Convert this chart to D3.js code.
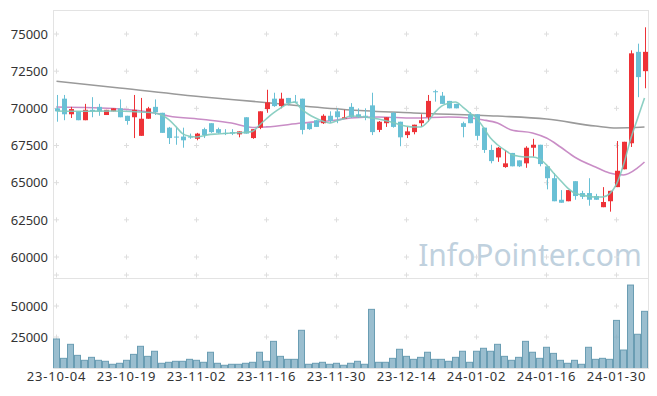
<!DOCTYPE html>
<html>
<head>
<meta charset="utf-8">
<script src="https://cdn.jsdelivr.net/npm/d3@7"></script>
<style>
  body { margin: 0; background: #fff; }
  svg { display: block; font-family: "Noto Sans", sans-serif; }
</style>
</head>
<body>
<div class="chart"></div>
<script>
// dates (trading days)
const dates = ["23-10-04","23-10-05","23-10-06","23-10-10","23-10-11","23-10-12","23-10-13","23-10-16","23-10-17","23-10-18",
  "23-10-19","23-10-20","23-10-23","23-10-24","23-10-25","23-10-26","23-10-27","23-10-30","23-10-31","23-11-01",
  "23-11-02","23-11-03","23-11-06","23-11-07","23-11-08","23-11-09","23-11-10","23-11-13","23-11-14","23-11-15",
  "23-11-16","23-11-17","23-11-20","23-11-21","23-11-22","23-11-23","23-11-24","23-11-27","23-11-28","23-11-29",
  "23-11-30","23-12-01","23-12-04","23-12-05","23-12-06","23-12-07","23-12-08","23-12-11","23-12-12","23-12-13",
  "23-12-14","23-12-15","23-12-18","23-12-19","23-12-20","23-12-21","23-12-22","23-12-26","23-12-27","23-12-28",
  "24-01-02","24-01-03","24-01-04","24-01-05","24-01-08","24-01-09","24-01-10","24-01-11","24-01-12","24-01-15",
  "24-01-16","24-01-17","24-01-18","24-01-19","24-01-22","24-01-23","24-01-24","24-01-25","24-01-26","24-01-29",
  "24-01-30","24-01-31","24-02-01","24-02-02","24-02-05"];

const open = [70000,70650,69600,69800,69200,69900,70100,69550,69800,70000,
  69500,69400,68150,69300,70100,69700,68700,68100,68100,68100,
  67950,68600,69000,68600,68350,68400,68250,69400,68000,68700,
  69950,70650,70150,70700,70450,70650,69000,69200,69000,69500,
  69800,69300,70100,69600,69500,70200,68550,69000,69700,69100,
  68200,68400,69000,69400,71150,70850,70500,70300,69000,69600,
  69600,68700,67200,66700,66050,67000,66500,66300,67350,67550,
  66100,65300,63850,63750,65100,64300,64300,64100,63350,63750,
  64700,65900,67650,73800,72500];
const high = [70900,70900,70100,69800,70300,70750,70300,69900,70000,70600,
  69500,70900,70700,70100,70600,69700,68750,68700,68700,68300,
  68350,68700,69000,68700,68600,68600,68450,69400,68600,69800,
  71250,71050,71050,70700,70900,70650,69000,69200,69600,69800,
  70000,69900,70350,70000,70000,71050,69150,69400,69750,69100,
  68750,68900,69600,70900,71250,71100,70500,70300,69100,69750,
  69600,68700,67550,67400,67200,67000,66500,67450,67950,67550,
  66100,65650,64500,64500,65100,64450,65300,64250,64700,64450,
  67800,67750,73900,74350,75450];
const low = [69100,69200,69350,69200,69200,69400,69500,69550,69800,69400,
  68900,68000,68150,69300,69550,68350,67600,67550,67350,67950,
  67850,68000,68350,68300,68200,68200,68050,68300,67950,68600,
  69700,70100,70000,70200,70350,68250,68550,68750,68950,69000,
  69000,69300,69350,69350,69200,68200,68400,68750,68700,67450,
  68000,68250,68750,69100,70450,70300,70000,70000,68050,69000,
  67850,67000,66300,66400,66000,66100,66050,66000,66750,66100,
  64550,63750,63650,63750,63850,63900,63450,63850,63350,63050,
  64700,65900,67400,70750,71350];
const close = [69800,69600,69950,69200,69900,69800,69800,69900,70000,69400,
  69150,69900,69300,70000,69750,68350,68000,68050,67850,68050,
  68300,68200,68400,68350,68300,68300,68450,68300,68600,69800,
  70400,70150,70650,70350,70400,68550,68600,68750,69500,69150,
  69400,69400,69400,69400,69450,68400,69100,69400,68750,68050,
  68450,68900,69200,70500,71100,70300,70000,70000,68750,69000,
  68150,67200,66450,67350,66300,66100,66100,67350,67550,66250,
  65300,63750,63650,64500,64100,64050,63850,63850,63700,64450,
  65800,67750,73700,72100,73800];
const volume = [23400,7800,19100,10200,6200,8600,6200,5400,3000,3800,
  6200,11000,17500,9400,13500,3800,4600,5400,5400,7000,
  6200,4600,12700,3800,2200,3000,3000,3800,4600,12700,
  5400,21500,9400,7000,7000,30400,3000,3800,4600,3000,
  3800,2200,3800,5400,3000,47300,4600,4600,7800,15100,
  9400,7000,8600,12700,7000,7000,5400,8600,13500,4600,
  13500,15900,13500,19100,9400,6200,8600,21500,12700,7800,
  16700,11800,6200,3800,6200,3000,16700,7000,7800,7000,
  38400,14500,66900,27200,45700];

// moving averages (index of day, value)
const ma5Day = [0,4,8,12,14,15,16,17,18,19,20,21,22,23,25,27,28,29,30,31,32,33,34,35,36,37,38,39,40,41,42,44,46,48,50,51,52,53,54,55,56,57,58,59,60,61,62,63,64,65,66,67,68,69,70,71,72,73,74,75,76,77,78,79,80,81,82,83,84];
const ma5 = [69820,69800,69820,69750,69690,69550,69250,68800,68300,68120,68070,68150,68250,68270,68340,68380,68450,68880,69300,69700,70020,70300,70430,69950,69600,69350,69150,69010,69150,69300,69480,69420,69280,69050,68800,68740,68740,69080,69700,70150,70350,70430,70100,69700,69350,68700,68000,67550,67200,66900,66780,66730,66730,66600,66200,65650,65150,64650,64300,64180,64080,64040,64040,64250,64900,66200,67900,69300,70700];
const ma20Day = [0,9,14,16,21,25,28,30,35,40,42,46,51,56,59,61,63,65,68,70,72,74,77,79,81,83,84];
const ma20 = [70090,69960,69690,69490,69250,69010,68710,68750,69010,69220,69350,69420,69350,69420,69350,69220,69010,68540,68340,68000,67400,66730,66050,65650,65520,65990,66390];
const ma120Day = [0,9,21,29,35,42,51,63,70,77,80,84];
const ma120 = [71820,71370,70760,70430,70160,69890,69690,69480,69280,68810,68680,68740];

const priceTicks = [60000,62500,65000,67500,70000,72500,75000];
const volumeTicks = [25000,50000];
const tickLabels = ["23-10-04","23-10-19","23-11-02","23-11-16","23-11-30","23-12-14","24-01-02","24-01-16","24-01-30"];

const width = 657, height = 396;
const plotLeft = 53, plotRight = 648, plotTop = 10, split = 278, plotBottom = 368;

const svg = d3.select('.chart').append('svg')
  .attr('width', width)
  .attr('height', height);

const x = d3.scaleBand().domain(dates).range([plotLeft, plotRight]).padding(0);
const y = d3.scaleLinear().domain([60000, 75000]).range([257, 34]);
const yVol = d3.scaleLinear().domain([0, 75000]).range([plotBottom, 275]);

// frame
svg.append('rect')
  .attr('x', plotLeft + 0.5).attr('y', plotTop + 0.5)
  .attr('width', plotRight - plotLeft).attr('height', plotBottom - plotTop)
  .attr('fill', 'none').attr('stroke', '#e3e3e3');
svg.append('line')
  .attr('x1', plotLeft).attr('x2', plotRight)
  .attr('y1', split + 0.5).attr('y2', split + 0.5)
  .attr('stroke', '#e3e3e3');

// watermark
svg.append('text')
  .attr('x', 530).attr('y', 266)
  .attr('text-anchor', 'middle')
  .attr('font-size', 30)
  .attr('fill', '#c0d1de')
  .text('InfoPointer.com');

// small + marks at grid crossings
const cx = tickLabels.map(d => x(d) + x.bandwidth() / 2);
const crossY = priceTicks.map(d => y(d)).concat([25000, 50000, 75000].map(d => yVol(d)));
const marks = svg.append('g').attr('stroke', '#dedede');
cx.forEach(px => crossY.forEach(py => {
  marks.append('line').attr('x1', px - 2.5).attr('x2', px + 2.5).attr('y1', py).attr('y2', py);
  marks.append('line').attr('x1', px).attr('x2', px).attr('y1', py - 2.5).attr('y2', py + 2.5);
}));

// volume
svg.append('clipPath').attr('id', 'volClip')
  .append('rect').attr('x', plotLeft).attr('y', split).attr('width', plotRight - plotLeft).attr('height', plotBottom - split);
svg.append('g').attr('clip-path', 'url(#volClip)')
  .selectAll('rect')
  .data(volume)
  .join('rect')
  .attr('x', (d, i) => x(dates[i]) + 0.5)
  .attr('y', d => yVol(d))
  .attr('width', x.bandwidth() - 1)
  .attr('height', d => plotBottom - yVol(d) + 1)
  .attr('fill', 'rgba(126,172,194,0.78)')
  .attr('stroke', '#6a9db3')
  .attr('stroke-width', 1);

// moving average lines
function maLine(days, vals, color, w) {
  const pts = days.map((d, i) => [x(dates[d]) + x.bandwidth() / 2, y(vals[i])]);
  svg.append('path')
    .attr('d', d3.line().curve(d3.curveMonotoneX)(pts))
    .attr('fill', 'none')
    .attr('stroke', color)
    .attr('stroke-width', w);
}
maLine(ma120Day, ma120, '#9a9a9a', 1.6);
maLine(ma20Day, ma20, '#c98dc6', 1.6);

// candles
const candles = svg.append('g');
const bodyW = 5;
dates.forEach((d, i) => {
  const up = close[i] >= open[i];
  const col = up ? '#ee3237' : '#69c0d5';
  const mx = Math.round(x(d) + x.bandwidth() / 2) + 0.5;
  candles.append('line')
    .attr('x1', mx).attr('x2', mx)
    .attr('y1', y(high[i])).attr('y2', y(low[i]))
    .attr('stroke', col).attr('stroke-width', 1);
  const yt = y(Math.max(open[i], close[i]));
  const yb = y(Math.min(open[i], close[i]));
  candles.append('rect')
    .attr('x', mx - bodyW / 2)
    .attr('y', yt)
    .attr('width', bodyW)
    .attr('height', Math.max(1, yb - yt))
    .attr('fill', col);
});

maLine(ma5Day, ma5, 'rgba(128,202,188,0.9)', 1.6);

// axes
const yAxis = d3.axisLeft(y).tickValues(priceTicks).tickSize(0).tickPadding(5).tickFormat(d3.format('d'));
svg.append('g').attr('transform', `translate(${plotLeft},0)`).call(yAxis)
  .call(g => g.select('.domain').remove());
const vAxis = d3.axisLeft(yVol).tickValues(volumeTicks).tickSize(0).tickPadding(5).tickFormat(d3.format('d'));
svg.append('g').attr('transform', `translate(${plotLeft},0)`).call(vAxis)
  .call(g => g.select('.domain').remove());
const xAxis = d3.axisBottom(x).tickValues(tickLabels).tickSize(0).tickPadding(4);
svg.append('g').attr('class', 'x-axis').attr('transform', `translate(0,${plotBottom})`).call(xAxis)
  .call(g => g.select('.domain').remove());

svg.selectAll('.tick text')
  .attr('font-family', '"Noto Sans", sans-serif')
  .attr('font-size', 13)
  .attr('fill', '#333');
svg.selectAll('.x-axis .tick text')
  .attr('letter-spacing', '0.8px');
</script>
</body>
</html>
